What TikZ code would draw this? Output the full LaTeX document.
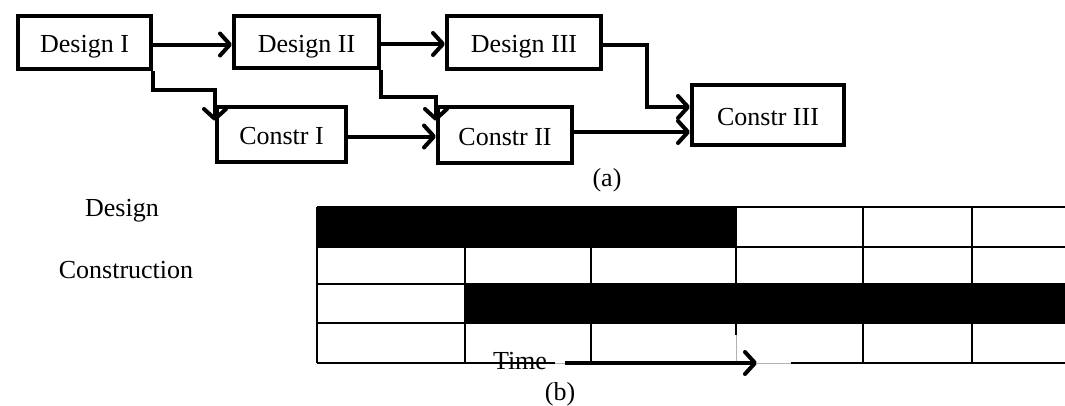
\documentclass[tikz,border=0pt]{standalone}
\usepackage{fontspec}
\setmainfont{Liberation Serif}
\usetikzlibrary{arrows.meta,calc,shadows}
\begin{document}
\begin{tikzpicture}[x=1pt,y=-1pt,
  every node/.style={font=\fontsize{26}{30}\selectfont},
  box/.style={draw, line width=4pt, fill=white, inner sep=0pt,
    text height=24pt, text depth=4pt,
    drop shadow={shadow xshift=1.5pt, shadow yshift=-2pt, opacity=0.25}},
  arr/.style={line width=4pt, -{Straight Barb[length=10pt,width=22pt,round]}},
  grid/.style={line width=2.7pt},
  faint/.style={line width=0.8pt, gray!60}]
\useasboundingbox (0,0) rectangle (1065,405);

% (a) activity network
\node[box, minimum width=133pt, minimum height=53pt] (d1) at (84.5,42.5) {Design I};
\node[box, minimum width=145pt, minimum height=52pt] (d2) at (306.5,42) {Design II};
\node[box, minimum width=154pt, minimum height=53pt] (d3) at (524,42.5) {Design III};
\node[box, minimum width=129pt, minimum height=55pt] (c1) at (281.5,134.5) {Constr I};
\node[box, minimum width=134pt, minimum height=56pt] (c2) at (505,135) {Constr II};
\node[box, minimum width=152pt, minimum height=60pt] (c3) at (768,115) {Constr III};
\coordinate (k3) at (647,107);

\draw[arr] ([yshift=-2pt]d1.east) -- ([yshift=-2pt]d1.east -| d2.west);
\draw[arr] ([yshift=-2pt]d2.east) -- ([yshift=-2pt]d2.east -| d3.west);
\draw[arr] (d1.south east) -- ++(0,19) -| ($(c1.north west)+(0,16)$);
\draw[arr] (d2.south east) -- ++(0,27) -| ($(c2.north west)+(0,16)$);
\draw[arr] ([yshift=-2pt]c1.east) -- ([yshift=-2pt]c1.east -| c2.west);
\draw[arr] ([yshift=3pt]c2.east) -- ([yshift=3pt]c2.east -| c3.west);
\draw[arr] ([yshift=-2.5pt]d3.east) -| (k3) -- (k3 -| c3.west);

\node[anchor=base] (la) at (607,186) {(a)};

% (b) schedule chart
\node[anchor=base] (ldes) at (122,216) {Design};
\node[anchor=base] (lcon) at (126,278) {Construction};

\fill (317,207) rectangle (736,247);
\fill (465,284) rectangle (1065,323);
\draw[faint, gray!40!black] (591,209) -- (591,245) (591,286) -- (591,321) (736,286) -- (736,321);

\foreach \y in {207,247,284,323}
  \draw[grid] (317,\y) -- (1065,\y);
\foreach \x in {317,465,591,863,972}
  \draw[grid] (\x,207) -- (\x,363);
\draw[grid] (736,207) -- (736,335);
\draw[faint] (736,335) -- (736,363);

\node[anchor=base] (time) at (520,369) {Time};
\coordinate (ts) at (565,363);
\coordinate (te) at (757,363);
\draw[grid] (317,363) -- (555,363);
\draw[faint] (555,363) -- (ts) (te) -- (791,363);
\draw[grid] (791,363) -- (1065,363);
\draw[arr] (ts) -- (te);

\node[anchor=base] (lb) at (560,400) {(b)};
\end{tikzpicture}
\end{document}
